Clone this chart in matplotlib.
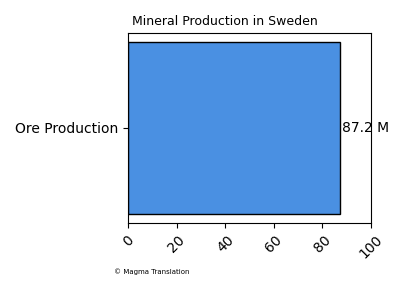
import matplotlib
matplotlib.use("Agg")
import matplotlib.pyplot as plt

# 数据
categories = ["Ore Production"]
values = [87.2]
labels = ["87.2 M"]

fig, ax = plt.subplots(figsize=(4, 3), dpi=100)
fig.subplots_adjust(left=0.32, right=0.9275, top=0.89, bottom=0.257)

bars = ax.barh(categories, values, color="#4a90e2", edgecolor="black", height=0.8)
for bar, lab in zip(bars, labels):
    ax.text(bar.get_width() + 0.8, bar.get_y() + bar.get_height() / 2, lab,
            va="center", ha="left", fontsize=10)

ax.set_xlim(0, 100)
ax.set_xticks([0, 20, 40, 60, 80, 100])
plt.xticks(rotation=45)
ax.set_title("Mineral Production in Sweden", fontsize=9, loc="left", x=0.015)

fig.text(0.285, 0.093, "© Magma Translation", fontsize=5, ha="left", va="center")

plt.savefig("out.png")
